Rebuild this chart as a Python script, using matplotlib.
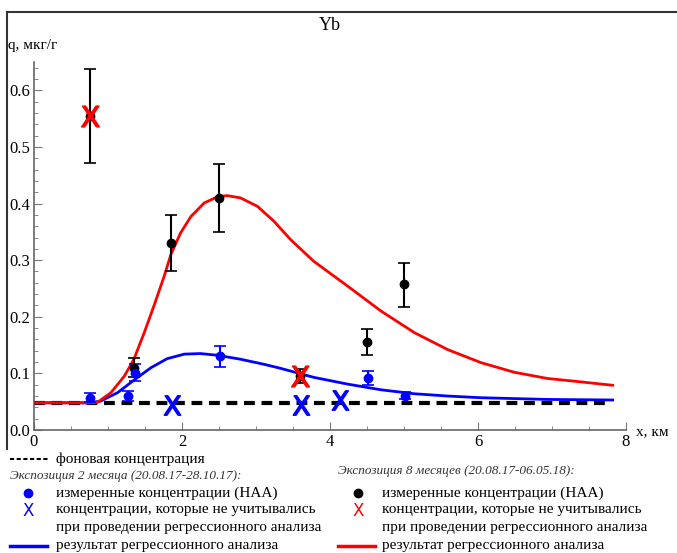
import matplotlib
matplotlib.use("Agg")
import matplotlib.pyplot as plt
from matplotlib.lines import Line2D
from matplotlib.ticker import MultipleLocator

plt.rcParams['font.family'] = ['Liberation Serif', 'DejaVu Serif']

# background concentration, mkg/g
background = 0.048

# exposure 2 months - measured (NAA)
x2 = [0.75, 1.27, 1.36, 2.51, 4.51, 5.01]
y2 = [0.057, 0.06, 0.10, 0.13, 0.091, 0.06]
lo2 = [0.049, 0.051, 0.086, 0.111, 0.079, 0.054]
hi2 = [0.066, 0.069, 0.116, 0.149, 0.105, 0.067]
# exposure 2 months - excluded from regression
x2_excl = [1.86, 3.61, 4.14]
y2_excl = [0.045, 0.045, 0.053]
# exposure 2 months - regression curve
fit2_x = [0, 0.75, 0.9, 1.13, 1.35, 1.58, 1.80, 2.03, 2.25, 2.48, 2.79, 3.11, 3.33,
          3.47, 3.78, 4.24, 4.69, 5.14, 5.59, 6.04, 6.94, 7.82]
fit2_y = [0.048, 0.048, 0.051, 0.066, 0.088, 0.110, 0.126, 0.134, 0.135, 0.132, 0.125,
          0.116, 0.109, 0.104, 0.093, 0.081, 0.071, 0.064, 0.06, 0.057, 0.054, 0.053]

# exposure 8 months - measured (NAA)
x8 = [0.75, 1.35, 1.85, 2.5, 3.6, 4.5, 5.0]
y8 = [0.555, 0.11, 0.33, 0.41, 0.095, 0.155, 0.257]
lo8 = [0.472, 0.093, 0.28, 0.35, 0.083, 0.132, 0.218]
hi8 = [0.638, 0.128, 0.38, 0.47, 0.107, 0.179, 0.295]
# exposure 8 months - excluded from regression
x8_excl = [0.75, 3.6]
y8_excl = [0.555, 0.095]
# exposure 8 months - regression curve
fit8_x = [0, 0.75, 0.86, 1.04, 1.22, 1.35, 1.49, 1.62, 1.76, 1.85, 1.98, 2.12, 2.30,
          2.48, 2.61, 2.79, 3.02, 3.24, 3.47, 3.78, 4.24, 4.69, 5.14, 5.59, 6.04, 6.49,
          6.94, 7.39, 7.82]
fit8_y = [0.048, 0.048, 0.049, 0.066, 0.095, 0.125, 0.172, 0.219, 0.272, 0.31, 0.348,
          0.377, 0.401, 0.412, 0.414, 0.41, 0.395, 0.369, 0.336, 0.298, 0.254, 0.21,
          0.172, 0.142, 0.119, 0.102, 0.091, 0.085, 0.079]

W, H = 677, 553
fig = plt.figure(figsize=(W / 100, H / 100), dpi=100)
ax = fig.add_axes([34 / W, 1 - 430 / H, (626 - 34) / W, (430 - 62) / H])

# background
ax.plot([0, 7.8], [background, background], color='black', lw=3, ls=(0, (2.6, 1.6)), zorder=2)

# curves
ax.plot(fit2_x, fit2_y, color='blue', lw=2, zorder=3, solid_joinstyle='round')
ax.plot(fit8_x, fit8_y, color='red', lw=2, zorder=3, solid_joinstyle='round')

err8 = [[y - l for y, l in zip(y8, lo8)], [h - y for y, h in zip(y8, hi8)]]
ax.errorbar(x8, y8, yerr=err8, fmt='o', color='black', ms=6, elinewidth=1.5,
            capsize=4, capthick=1.2, zorder=4)
err2 = [[y - l for y, l in zip(y2, lo2)], [h - y for y, h in zip(y2, hi2)]]
ax.errorbar(x2, y2, yerr=err2, fmt='o', color='blue', ms=6, elinewidth=1.5,
            capsize=4, capthick=1.2, zorder=4)

xmark = r'$\mathsf{X}$'
ax.plot(x2_excl, y2_excl, ls='none', marker=xmark, ms=14, color='blue', zorder=5)
ax.plot(x8_excl, y8_excl, ls='none', marker=xmark, ms=15, color='red', zorder=5)

ax.set_xlim(0, 8)
ax.set_ylim(0, 0.65)
for s in ['top', 'right']:
    ax.spines[s].set_visible(False)
for s in ['left', 'bottom']:
    ax.spines[s].set_color('#666666')
    ax.spines[s].set_linewidth(1.2)
ax.xaxis.set_major_locator(MultipleLocator(2))
ax.xaxis.set_minor_locator(MultipleLocator(0.5))
ax.yaxis.set_major_locator(MultipleLocator(0.1))
ax.yaxis.set_minor_locator(MultipleLocator(0.02))
ax.tick_params(which='both', direction='in', color='#777777', labelsize=12, pad=3)
ax.tick_params(which='major', length=6)
ax.tick_params(which='minor', length=3)
ax.set_xticks([0, 2, 4, 6, 8])
ax.set_xticklabels(['0', '2', '4', '6', '8'])
ax.set_yticklabels(['%.1f' % v for v in ax.get_yticks()])
ax.set_ylim(0, 0.65)

fig.text(330 / W, 1 - 25 / H, 'Yb', ha='center', va='center', fontsize=13)
fig.text(8 / W, 1 - 45 / H, 'q, мкг/г', ha='left', va='center', fontsize=11)
fig.text(636 / W, 1 - 432 / H, 'x, км', ha='left', va='center', fontsize=11)

# outer frame (left and top edge)
fig.add_artist(Line2D([7 / W, 7 / W], [1 - 449 / H, 1 - 12 / H], color='#333333', lw=1.5))
fig.add_artist(Line2D([7 / W, 1], [1 - 12 / H, 1 - 12 / H], color='#333333', lw=1.5))


def fy(py):
    return 1 - py / H


def fx(px):
    return px / W


fs = 11
# legend
fig.add_artist(Line2D([fx(10), fx(50)], [fy(459), fy(459)], color='black', lw=1.5, ls=(0, (2, 1.2))))
fig.text(fx(56), fy(459), 'фоновая концентрация', va='center', fontsize=fs)
fig.text(fx(10), fy(476), 'Экспозиция 2 месяца (20.08.17-28.10.17):', va='center',
         fontsize=9.5, style='italic', color='#333333')
fig.text(fx(338), fy(471), 'Экспозиция 8 месяцев (20.08.17-06.05.18):', va='center',
         fontsize=9.5, style='italic', color='#333333')
for x0, mcol, lcol in [(28, 'blue', 'blue'), (358, 'black', 'red')]:
    tx = x0 + 28 if x0 == 28 else x0 + 24
    fig.add_artist(Line2D([fx(x0)], [fy(493)], ls='none', marker='o', ms=6, color=mcol))
    fig.text(fx(tx), fy(493), 'измеренные концентрации (НАА)', va='center', fontsize=fs)
    fig.text(fx(x0), fy(511), 'X', ha='center', va='center', fontsize=12, color=lcol,
             family='DejaVu Sans')
    fig.text(fx(tx), fy(510), 'концентрации, которые не учитывались', va='center', fontsize=fs)
    fig.text(fx(tx), fy(528), 'при проведении регрессионного анализа', va='center', fontsize=fs)
    lx0 = 10 if x0 == 28 else 338
    fig.add_artist(Line2D([fx(lx0), fx(lx0 + 37)], [fy(546), fy(546)], color=lcol, lw=2.5))
    fig.text(fx(tx), fy(546), 'результат регрессионного анализа', va='center', fontsize=fs)

fig.savefig('out.png', dpi=100)
